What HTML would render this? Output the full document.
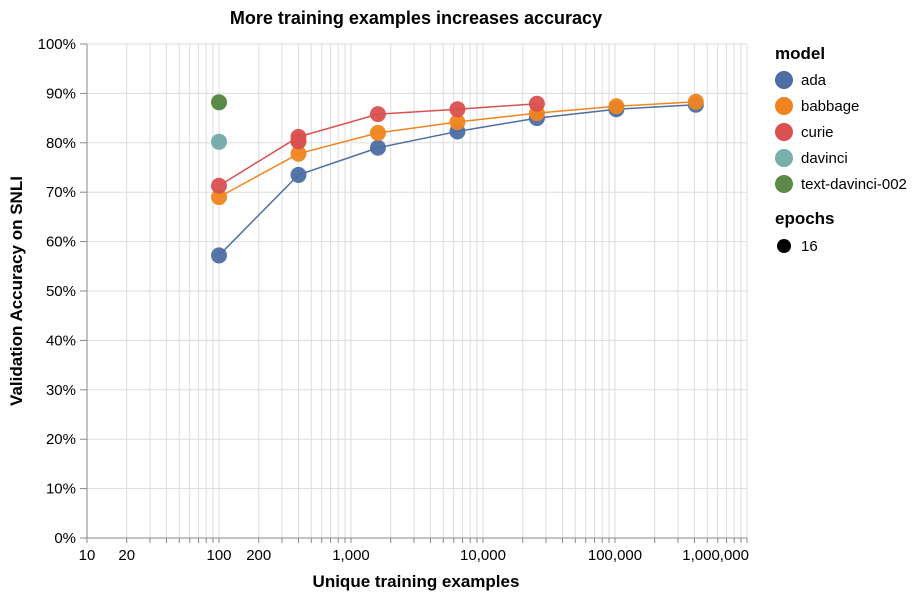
<!DOCTYPE html>
<html><head><meta charset="utf-8"><style>
html,body{margin:0;padding:0;background:#fff;}
svg{display:block;font-family:"Liberation Sans",Arial,sans-serif;}
</style></head><body>
<svg id="s" width="924" height="596" xmlns="http://www.w3.org/2000/svg">
<text x="416" y="24" text-anchor="middle" font-size="18" font-weight="bold" fill="#000">More training examples increases accuracy</text>
<g id="grid"></g>
<g id="axes"></g>
<g id="data"></g>
<text x="416" y="587" text-anchor="middle" font-size="17" font-weight="bold">Unique training examples</text>
<text transform="translate(22,291) rotate(-90)" text-anchor="middle" font-size="17" font-weight="bold">Validation Accuracy on SNLI</text>
<g font-size="15">
<text x="775" y="59" font-weight="bold" font-size="17">model</text>
<circle cx="784" cy="80" r="9" fill="#4c6ea4"/><text x="801" y="85">ada</text>
<circle cx="784" cy="106" r="9" fill="#f0851f"/><text x="801" y="111">babbage</text>
<circle cx="784" cy="132" r="9" fill="#d9504f"/><text x="801" y="137">curie</text>
<circle cx="784" cy="158" r="9" fill="#78aeab"/><text x="801" y="163">davinci</text>
<circle cx="784" cy="184" r="9" fill="#5a8a48"/><text x="801" y="189">text-davinci-002</text>
<text x="775" y="224" font-weight="bold" font-size="17">epochs</text>
<circle cx="784" cy="246" r="7" fill="#000"/><text x="801" y="251">16</text>
</g>
</svg>
<script>
var NS="http://www.w3.org/2000/svg";
function el(p,t,a){var e=document.createElementNS(NS,t);for(var k in a)e.setAttribute(k,a[k]);p.appendChild(e);return e;}
var X0=87,DEC=132,Y0=538,H=494;
function xs(v){return X0+Math.log10(v/10)*DEC;}
function ys(p){return Y0-p/100*H;}
var g=document.getElementById('grid'),ax=document.getElementById('axes'),d=document.getElementById('data');
for(var e=1;e<=6;e++){for(var m=1;m<=9;m++){var v=m*Math.pow(10,e);if(v>1e6)break;var x=xs(v);
el(g,'line',{x1:x,x2:x,y1:44,y2:538,stroke:'#ddd','stroke-width':1});
el(ax,'line',{x1:x,x2:x,y1:538,y2:543,stroke:'#888','stroke-width':1});}}
for(var i=0;i<=10;i++){var y=ys(i*10);el(g,'line',{x1:87,x2:747,y1:y,y2:y,stroke:'#ddd','stroke-width':1});
el(ax,'line',{x1:80,x2:87,y1:y,y2:y,stroke:'#888'});
var t=el(ax,'text',{x:76,y:y+5,'text-anchor':'end','font-size':15});t.textContent=(i*10)+'%';}
el(ax,'line',{x1:87,x2:747,y1:538,y2:538,stroke:'#888'});
el(ax,'line',{x1:87,x2:87,y1:44,y2:538,stroke:'#888'});
var labs=[[10,'10','middle'],[20,'20','middle'],[100,'100','middle'],[200,'200','middle'],[1000,'1,000','middle'],[1e4,'10,000','middle'],[1e5,'100,000','middle'],[1e6,'1,000,000','end']];
labs.forEach(function(l){var t=el(ax,'text',{x:xs(l[0])+(l[2]=='end'?2:0),y:560,'text-anchor':l[2],'font-size':15});t.textContent=l[1];});
var xsv=[100,400,1600,6400,25600,102400,409600];
var S=[['#4c6ea4',[57.2,73.5,79,82.3,85,86.8,87.7]],['#f0851f',[69,77.8,82,84.2,86,87.4,88.3]],['#d9504f',[71.3,81.2,85.8,86.8,87.9]]];
S.forEach(function(s){var pts=s[1].map(function(v,i){return xs(xsv[i])+','+ys(v);}).join(' ');
el(d,'polyline',{points:pts,fill:'none',stroke:s[0],'stroke-width':1.5});});
S.forEach(function(s){s[1].forEach(function(v,i){el(d,'circle',{cx:xs(xsv[i]),cy:ys(v),r:8,fill:s[0],'fill-opacity':0.95});});});
el(d,'circle',{cx:xs(400),cy:ys(80.3),r:8,fill:'#d9504f'});
el(d,'circle',{cx:xs(100),cy:ys(80.2),r:8,fill:'#78aeab'});
el(d,'circle',{cx:xs(100),cy:ys(88.2),r:8,fill:'#5a8a48'});
</script>
</body></html>
